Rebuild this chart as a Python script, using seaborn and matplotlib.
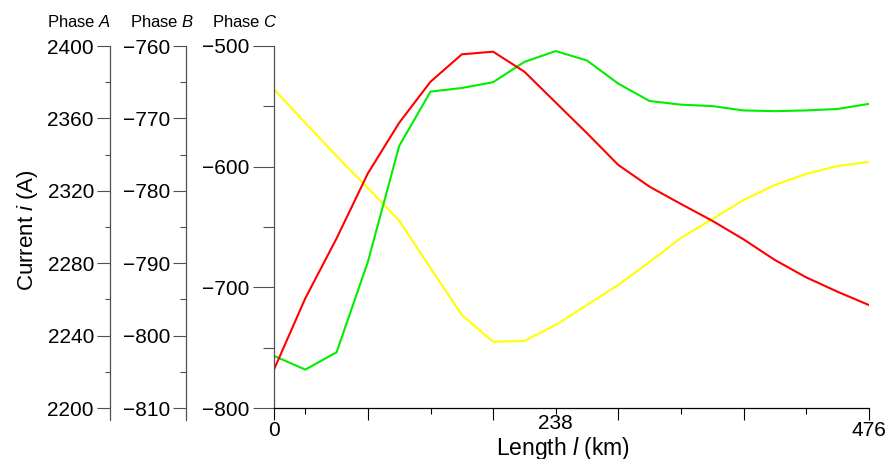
import matplotlib
matplotlib.use("Agg")
import matplotlib.pyplot as plt
import seaborn as sns
import pandas as pd

# ---- data ----
segment = list(range(20))  # sampling points along the line (0 .. 476 km)
x_tick_major = [0, 3, 7, 11, 15, 19]
x_tick_minor = [1, 5, 9, 13, 17]
x_major_labels = ["0", "", "", "", "", "476"]
x_minor_labels = ["", "", "238", "", ""]

phase_a = [2376.1, 2357.5, 2339.2, 2321.5, 2303.5, 2277.3, 2251.4, 2236.6, 2237.0, 2245.9,
           2256.9, 2268.0, 2280.7, 2293.9, 2304.4, 2314.9, 2323.2, 2329.3, 2333.7, 2335.9]
phase_b = [-802.8, -804.7, -802.3, -789.8, -773.8, -766.3, -765.8, -765.0, -762.2, -760.7,
           -762.0, -765.2, -767.6, -768.1, -768.3, -768.9, -769.0, -768.9, -768.7, -768.0]
phase_c = [-768.1, -709.1, -659.4, -605.5, -563.6, -529.6, -506.9, -504.7, -521.3, -546.8,
           -572.3, -598.6, -616.6, -630.9, -644.8, -660.2, -677.3, -691.7, -703.6, -714.6]

a_ticks = [2200, 2240, 2280, 2320, 2360, 2400]
a_minor = [2220, 2260, 2300, 2340, 2380]
b_ticks = [-810, -800, -790, -780, -770, -760]
b_minor = [-805, -795, -785, -775, -765]
c_ticks = [-800, -700, -600, -500]
c_minor = [-750, -650, -550]

df = pd.DataFrame({"seg": segment, "A": phase_a, "B": phase_b, "C": phase_c})

sns.set_style("white")
plt.rcParams["font.family"] = ["Liberation Sans", "DejaVu Sans"]
plt.rcParams["mathtext.fontset"] = "custom"
plt.rcParams["mathtext.rm"] = "Liberation Sans"
plt.rcParams["mathtext.it"] = "Liberation Sans:italic"
plt.rcParams["text.color"] = "black"
plt.rcParams["axes.labelcolor"] = "black"
plt.rcParams["xtick.labelcolor"] = "black"
plt.rcParams["ytick.labelcolor"] = "black"

W, H = 892, 459
fig = plt.figure(figsize=(W / 100, H / 100), dpi=100)
left, right, top, bottom = 274, 868.7, 46, 408
ax = fig.add_axes([left / W, 1 - bottom / H, (right - left) / W, (bottom - top) / H])
axA = ax.twinx()
axB = ax.twinx()

spine_col = "#505050"

# lines
sns.lineplot(data=df, x="seg", y="A", ax=axA, color="#FFFF00", lw=1.5)
sns.lineplot(data=df, x="seg", y="B", ax=axB, color="#00EE00", lw=1.5)
sns.lineplot(data=df, x="seg", y="C", ax=ax, color="#FF0000", lw=1.5)
ax.set_zorder(3)
ax.patch.set_visible(False)

# main axis (Phase C)
ax.set_xlim(0, 19)
ax.set_ylim(-800, -500)
for s in ["top", "right"]:
    ax.spines[s].set_visible(False)
ax.spines["left"].set_color(spine_col)
ax.spines["bottom"].set_color("black")
ax.spines["left"].set_linewidth(0.9)
ax.spines["bottom"].set_linewidth(0.9)
ax.set_yticks(c_ticks)
ax.set_yticks(c_minor, minor=True)
ax.tick_params(axis="y", which="major", length=15, width=0.8, color=spine_col,
               labelsize=15, pad=2.5, left=True, labelcolor="black")
ax.tick_params(axis="y", which="minor", length=8, width=0.8, color=spine_col, left=True)
ax.set_xticks(x_tick_major, x_major_labels)
ax.set_xticks(x_tick_minor, x_minor_labels, minor=True)
ax.tick_params(axis="x", which="major", length=8.6, width=0.8, color="black",
               labelsize=15, pad=0.5, bottom=True, labelcolor="black")
ax.tick_params(axis="x", which="minor", length=4.3, width=0.8, color="black",
               labelsize=15, pad=0.3, bottom=True, labelcolor="black")
ax.set_xlabel("Length $\\mathit{l}$ (km)", fontsize=16.5, labelpad=0)
ax.set_ylabel("")

# twin axes setup
def setup_twin(t, pos, lo, hi, bottom_ext, ticks, minor, maj_len, min_len):
    t.set_ylim(lo, hi)
    for s in ["top", "right", "bottom"]:
        t.spines[s].set_visible(False)
    t.spines["left"].set_visible(True)
    t.spines["left"].set_position(("axes", pos))
    t.spines["left"].set_color(spine_col)
    t.spines["left"].set_linewidth(0.9)
    t.spines["left"].set_bounds(bottom_ext, hi)
    t.yaxis.set_ticks_position("left")
    t.yaxis.set_label_position("left")
    t.set_yticks(ticks)
    t.set_yticks(minor, minor=True)
    t.tick_params(axis="y", which="major", length=maj_len, width=0.8, color=spine_col,
                  labelsize=15, pad=2.5, left=True, right=False, labelcolor="black")
    t.tick_params(axis="y", which="minor", length=min_len, width=0.8, color=spine_col,
                  left=True, right=False)
    t.set_ylabel("")

setup_twin(axA, (110 - left) / (right - left), 2200, 2400, 2200 - 12 / 1.81,
           a_ticks, a_minor, 9.1, 3.8)
setup_twin(axB, (186 - left) / (right - left), -810, -760, -810 - 12 / 7.24,
           b_ticks, b_minor, 9.1, 4.0)

# x label position (baseline at ~455 px)
ax.xaxis.set_label_coords((563 - left) / (right - left), -(455 - bottom) / (bottom - top))
ax.xaxis.label.set_va("baseline")

# titles for each axis
fig.text(78.5 / W, 1 - 22 / H, "Phase $\\mathit{A}$", ha="center", va="center", fontsize=12)
fig.text(162.6 / W, 1 - 22 / H, "Phase $\\mathit{B}$", ha="center", va="center", fontsize=12)
fig.text(245 / W, 1 - 22 / H, "Phase $\\mathit{C}$", ha="center", va="center", fontsize=12)
fig.text(27 / W, 1 - 230 / H, "Current $\\mathit{i}$ (A)", ha="center", va="center",
         rotation=90, fontsize=16)

fig.savefig("out.png", dpi=100)
